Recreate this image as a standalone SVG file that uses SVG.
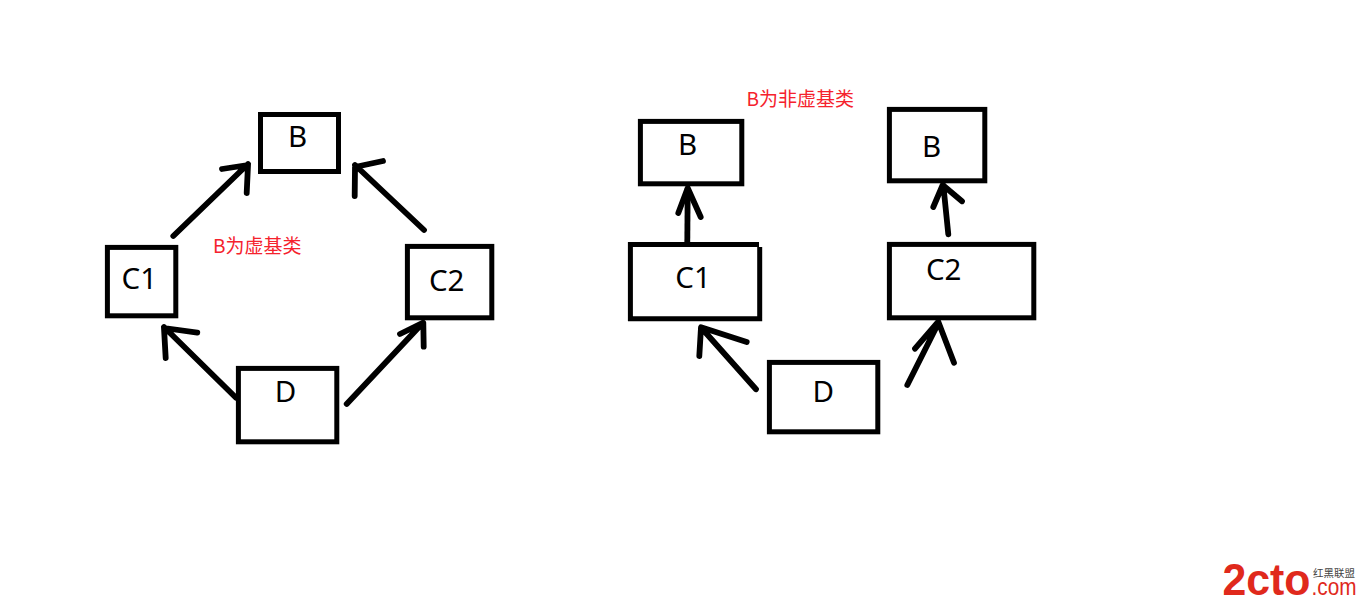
<svg xmlns="http://www.w3.org/2000/svg" width="1360" height="605" viewBox="0 0 1360 605">
<style>
.box{fill:none;stroke:#000;stroke-width:5;stroke-linejoin:miter}
.arr{fill:none;stroke:#000;stroke-width:5.8;stroke-linecap:round;stroke-linejoin:round}
.lbl{font-family:"Noto Sans","Open Sans","Liberation Sans",sans-serif;font-size:29.5px;fill:#000;text-anchor:middle}
.note{font-family:"Noto Sans CJK SC","Noto Sans",sans-serif;font-size:19px;fill:#f5222d}
.logo{font-family:"Liberation Sans",Arial,sans-serif;fill:#e0291c}
</style>
<rect width="1360" height="605" fill="#fff"/>
<g id="connectors">
<path class="arr" d="M173.3,236L248,164M222,169L248,165L246.7,193"/>
<path class="arr" d="M424,230L355,165M383,161L355,167L354.7,196"/>
<path class="arr" d="M236,397.7L164,327M197.3,332.7L164,328L165.7,358"/>
<path class="arr" d="M346.7,404L423,322.7M400,334L423.3,322.7L423.7,346.7"/>
<path class="arr" style="stroke-linecap:butt" d="M687.3,242L687.7,188"/>
<path class="arr" d="M678.3,213L687.7,188L700.7,217"/>
<path class="arr" d="M948.3,234.3L943.3,185M933.3,207L942.7,185L962,201.3"/>
<path class="arr" d="M756,389.3L701.7,328.3M746.7,342L701,327.3L699.3,356"/>
<path class="arr" d="M907.3,385L938.3,323.3M915,348.7L938.3,321.7L954,362.7"/>
</g>
<g id="left-B"><rect class="box" x="260.5" y="114.5" width="78" height="57"/><text class="lbl" x="297.5" y="147.3">B</text></g>
<g id="left-C1"><rect class="box" x="107.4" y="247.4" width="68.4" height="68.4"/><text class="lbl" x="139.3" y="289.3">C1</text></g>
<g id="left-C2"><rect class="box" x="407.4" y="246.4" width="84.4" height="71.4"/><text class="lbl" x="446.7" y="290.7">C2</text></g>
<g id="left-D"><rect class="box" x="238.4" y="368.4" width="98.4" height="73.4"/><text class="lbl" x="285.5" y="402">D</text></g>
<g id="right-B1"><rect class="box" x="640.4" y="121.4" width="101.4" height="62.4"/><text class="lbl" x="687.5" y="155.3">B</text></g>
<g id="right-B2"><rect class="box" x="889.4" y="109.4" width="95.4" height="71.4"/><text class="lbl" x="931.7" y="157.3">B</text></g>
<g id="right-C1"><path class="box" d="M759,244.4H630.4V318.7H759.7V246.9"/><text class="lbl" x="693" y="288.3">C1</text></g>
<g id="right-C2"><rect class="box" x="889.4" y="244.4" width="144.4" height="73.4"/><text class="lbl" x="943.7" y="280.3">C2</text></g>
<g id="right-D"><rect class="box" x="769.4" y="362.4" width="108.4" height="69.4"/><text class="lbl" x="823.3" y="402">D</text></g>
<text class="note" x="213" y="253">B为虚基类</text>
<text class="note" x="746.5" y="106">B为非虚基类</text>
<g id="watermark">
<text class="logo" x="1222.5" y="594.5" font-size="44" font-weight="700" textLength="88" lengthAdjust="spacingAndGlyphs">2cto</text>
<text class="logo" x="1311.5" y="594.5" font-size="23" textLength="45" lengthAdjust="spacingAndGlyphs">.com</text>
<text x="1313" y="577" font-size="10.5" fill="#444" font-family="'Noto Sans CJK SC',sans-serif">红黑联盟</text>
</g>
</svg>
